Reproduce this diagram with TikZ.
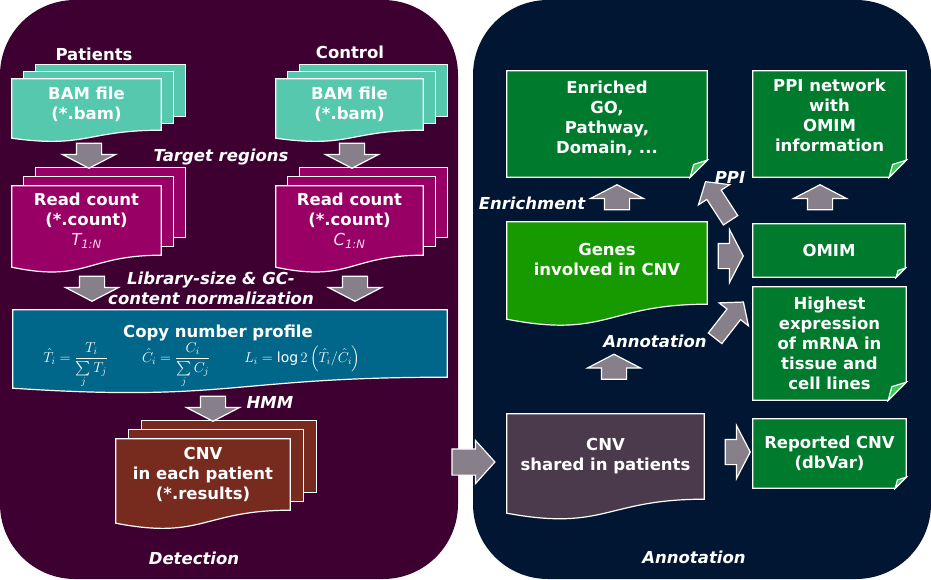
\documentclass[tikz,border=0pt]{standalone}
\usepackage{amsmath}
\usepackage{fontspec}
\setmainfont{DejaVu Sans}
\usetikzlibrary{positioning, calc, shapes.arrows}

\definecolor{detectbg}{HTML}{3D0030}
\definecolor{annotbg}{HTML}{001632}
\definecolor{bamcol}{HTML}{55C8AE}
\definecolor{countcol}{HTML}{990066}
\definecolor{profilecol}{HTML}{00668A}
\definecolor{resultcol}{HTML}{772B1F}
\definecolor{genecol}{HTML}{169A00}
\definecolor{notecol}{HTML}{007A2C}
\definecolor{foldcol}{HTML}{3CC85A}
\definecolor{sharedcol}{HTML}{4A3A4B}
\definecolor{arrowcol}{HTML}{877F8A}

\pgfdeclarelayer{panel}
\pgfdeclarelayer{boxes}
\pgfsetlayers{panel,boxes,main}

\newcommand\boxfont{\fontsize{16.5}{20}\selectfont\bfseries}

% wavy document box under a node: #1 wave depth, #2 node, #3 colour
\newcommand\docshape[3]{%
  \begin{pgfonlayer}{boxes}
  \filldraw[fill=#3, boxline] (#2.north west) -- (#2.north east) -- (#2.south east)
    .. controls (#2.south) and ($(#2.south)+(0,2.3*#1)$) .. ($(#2.south west)+(0,#1)$) -- cycle;
  \end{pgfonlayer}}
% two sheets behind a node: #1 dx, #2 dy, #3 node, #4 colour
\newcommand\stackshape[4]{%
  \begin{pgfonlayer}{boxes}
  \foreach \k in {2,1}
    \filldraw[fill=#4, boxline] ($(#3.north west)+(\k*#1,\k*#2)$) rectangle ($(#3.south east)+(\k*#1,\k*#2)$);
  \end{pgfonlayer}}
% box with folded corner: #1 fold size, #2 node, #3 colour
\newcommand\noteshape[3]{%
  \begin{pgfonlayer}{boxes}
  \filldraw[fill=#3, boxline] (#2.north west) -- (#2.north east) -- ($(#2.south east)+(0,-#1)$)
    -- ($(#2.south east)+(-#1,0)$) -- (#2.south west) -- cycle;
  \filldraw[fill=foldcol, boxline] ($(#2.south east)+(0,-#1)$) -- ($(#2.south east)+(-0.8*#1,-0.75*#1)$)
    -- ($(#2.south east)+(-#1,0)$) -- cycle;
  \end{pgfonlayer}}

\begin{document}
\begin{tikzpicture}[x=1pt, y=-1pt,
    boxline/.style={draw=white, line width=1.2pt},
    box/.style={align=center, text=white, inner sep=0pt, font=\boxfont},
    head/.style={text=white, font=\boxfont},
    lbl/.style={text=white, align=center, font=\boxfont\itshape},
    blockarrow/.style={single arrow, draw=white, fill=arrowcol, line width=1.2pt,
      inner xsep=0pt, inner ysep=12pt, minimum height=25pt, minimum width=52pt,
      single arrow head extend=14pt, single arrow tip angle=125},
    widearrow/.style={blockarrow, inner ysep=12.5pt, minimum height=43pt, minimum width=42pt,
      single arrow head extend=8.5pt, single arrow tip angle=96},
    slantarrow/.style={blockarrow, inner ysep=8pt, minimum height=46pt, minimum width=36pt,
      single arrow head extend=10pt, single arrow tip angle=100}]

    \useasboundingbox (0,0) rectangle (931,579);
    \begin{pgfonlayer}{panel}
      \fill[white] (0,0) rectangle (931,579);
      \fill[detectbg, rounded corners=75pt] (0,0) rectangle (458,579);
      \fill[annotbg, rounded corners=75pt] (473,0) rectangle (931,579);
    \end{pgfonlayer}

    %%% Detection
    \node[head] (patients) at (94,54) {Patients};
    \node[head] (control) at (350,52) {Control};

    \node[box, minimum width=149pt, minimum height=51pt] (bamT) at (86.5,104.5) {BAM file\\(*.bam)};
    \node[box, minimum width=147pt, minimum height=51pt] (bamC) at (349.5,104.5) {BAM file\\(*.bam)};
    \stackshape{12}{-7}{bamT}{bamcol} \docshape{8}{bamT}{bamcol}
    \stackshape{12}{-7}{bamC}{bamcol} \docshape{8}{bamC}{bamcol}

    \node[blockarrow, rotate=-90] (arrT1) at (89,152.5) {};
    \node[blockarrow, rotate=-90] (arrC1) at (352,152.5) {};
    \node[lbl] (target) at (221,157) {Target regions};

    \node[box, minimum width=149pt, minimum height=69pt] (countT) at (86.5,220.5)
      {Read count\\(*.count)\\{\mdseries\itshape\color{white!85!magenta}T\textsubscript{1:N}}};
    \node[box, minimum width=147pt, minimum height=69pt] (countC) at (349.5,220.5)
      {Read count\\(*.count)\\{\mdseries\itshape\color{white!85!magenta}C\textsubscript{1:N}}};
    \stackshape{12}{-9}{countT}{countcol} \docshape{12}{countT}{countcol}
    \stackshape{12}{-9}{countC}{countcol} \docshape{12}{countC}{countcol}

    \node[blockarrow, rotate=-90] (arrT2) at (92,285.5) {};
    \node[blockarrow, rotate=-90] (arrC2) at (355,285.5) {};
    \node[lbl] (norm) at (211,288) {Library-size \& GC-\\content normalization};

    \node[box, minimum width=434pt, minimum height=67pt] (profile) at (230,343.5)
      {\hspace*{-24pt}Copy number profile\\[1pt]
       {\fontsize{14}{16}\selectfont\mdseries\smash[b]{\hspace*{-56pt}%
        $\hat{T}_i=\dfrac{T_i}{\sum\limits_j T_j}$\hspace{34pt}%
        $\hat{C}_i=\dfrac{C_i}{\sum\limits_j C_j}$\hspace{34pt}%
        $L_i=\log 2\left(\hat{T}_i/\hat{C}_i\right)$}}};
    \docshape{11}{profile}{profilecol}

    \node[blockarrow, rotate=-90] (arrHMM) at (213,405.5) {};
    \node[lbl] (hmm) at (270,402) {HMM};

    \node[box, minimum width=174pt, minimum height=71pt] (cnvT) at (203,474.5)
      {CNV\\in each patient\\(*.results)};
    \stackshape{13}{-9}{cnvT}{resultcol} \docshape{13}{cnvT}{resultcol}

    \node[lbl] (detection) at (194,558) {Detection};

    \node[widearrow] (arrPanel) at (467.5,462) {};

    %%% Annotation
    \node[box, minimum width=200pt, minimum height=106pt] (enriched) at (607,124)
      {Enriched\\GO,\\Pathway,\\Domain, ...\rule[-14pt]{0pt}{1pt}};
    \noteshape{17}{enriched}{notecol}
    \node[box, minimum width=153pt, minimum height=106pt] (ppinet) at (829.5,124)
      {PPI network\\with\\OMIM\\information\rule[-18pt]{0pt}{1pt}};
    \noteshape{17}{ppinet}{notecol}

    \node[lbl] (enrichment) at (532,203) {Enrichment};
    \node[blockarrow, rotate=90] (arrEnrich) at (617,200.5) {};
    \node[lbl] (ppi) at (730,177) {PPI};
    \node[slantarrow, rotate=123] (arrPPI) at (720,204) {};
    \node[blockarrow, rotate=90] (arrNet) at (820,200.5) {};

    \node[box, minimum width=200pt, minimum height=82pt] (genes) at (607,263)
      {Genes\\involved in CNV\rule[-8pt]{0pt}{1pt}};
    \docshape{15}{genes}{genecol}
    \node[blockarrow] (arrOMIM) at (727.5,256) {};
    \node[box, minimum width=152pt, minimum height=53pt] (omim) at (829,250.5) {OMIM};
    \noteshape{9}{omim}{notecol}

    \node[box, minimum width=153pt, minimum height=113pt] (highest) at (829.5,343.5)
      {Highest\\expression\\of mRNA in\\tissue and\\cell lines};
    \noteshape{18}{highest}{notecol}
    \node[slantarrow, rotate=52] (arrExpr) at (727,323) {};
    \node[lbl] (annot) at (655,341) {Annotation};
    \node[blockarrow, rotate=90] (arrGenes) at (614,370) {};

    \node[box, minimum width=197pt, minimum height=85pt] (shared) at (605.5,456.5)
      {CNV\\shared in patients};
    \docshape{14}{shared}{sharedcol}
    \node[blockarrow] (arrRep) at (734.5,452) {};
    \node[box, minimum width=153pt, minimum height=69pt] (reported) at (829.5,453.5)
      {Reported CNV\\(dbVar)};
    \noteshape{11}{reported}{notecol}

    \node[lbl] (annotation) at (694,557) {Annotation};

\end{tikzpicture}
\end{document}
